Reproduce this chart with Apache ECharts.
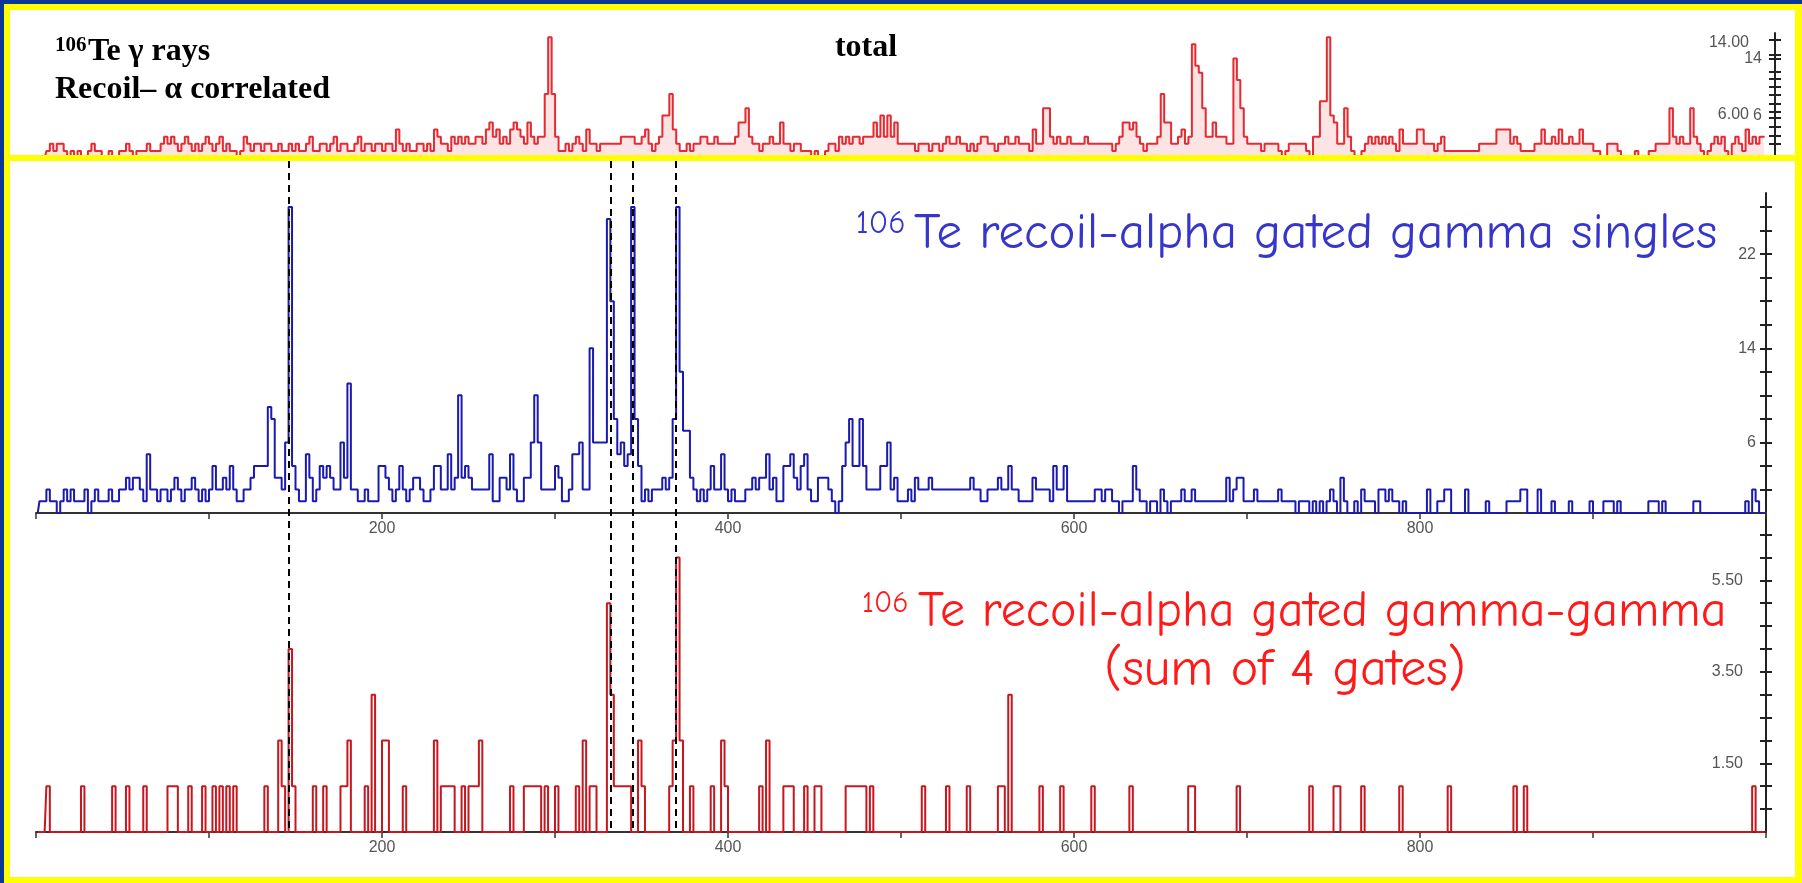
<!DOCTYPE html>
<html>
<head>
<meta charset="utf-8">
<script src="https://cdn.jsdelivr.net/npm/echarts@6.0.0/dist/echarts.min.js"></script>
<style>
html, body { margin: 0; padding: 0; background: #fff; }
#main { width: 1802px; height: 883px; }
</style>
</head>
<body>
<div id="main"></div>
<script>
// counts per 2 keV bin (bin start = 2*i)
// top panel: "total" spectrum
var top000 = [0,0,0,1,2,1,2,2,1,0, 1,0,1,0,0,1,2,1,1,0, 0,1,0,0,1,1,2,1,0,1, 1,1,2,1,1,1,2,3,2,3, 2,1,2,3,2,1,2,1,2,3];
var top100 = [2,1,2,3,1,2,1,1,0,1, 3,2,1,2,2,1,2,2,1,1, 2,1,1,2,1,2,1,1,2,3, 1,1,2,2,1,2,3,1,2,2, 1,1,2,3,1,2,2,1,2,2];
var top200 = [1,2,2,1,4,2,1,2,1,1, 2,2,1,2,1,4,3,2,2,1, 3,2,3,2,3,2,2,3,3,2, 4,5,3,4,2,3,2,4,5,4, 3,2,5,3,2,3,3,9,17,9];
var top300 = [3,1,1,2,1,2,3,2,1,4, 2,2,1,2,2,2,2,2,2,3, 3,3,3,2,2,3,4,2,1,2, 3,6,6,9,4,2,1,1,2,1, 2,2,3,3,2,2,3,2,2,2];
var top400 = [2,2,3,5,5,7,3,2,2,1, 2,2,3,2,2,5,2,2,1,2, 2,1,1,1,0,1,0,0,1,2, 2,1,3,2,3,2,3,3,2,3, 3,3,5,3,6,3,6,3,5,2];
var top500 = [2,2,2,2,1,2,2,2,1,2, 2,1,2,3,2,2,3,2,2,1, 2,1,2,3,3,2,2,1,2,2, 3,2,2,3,2,2,2,1,4,2, 2,7,7,3,2,3,2,2,3,2];
var top600 = [2,2,2,3,2,2,2,2,2,2, 2,1,2,3,5,5,4,5,3,2, 1,2,2,2,3,9,5,5,2,2, 3,4,2,3,16,13,12,7,3,3, 5,3,3,3,2,2,14,11,7,3];
var top700 = [2,2,2,2,1,2,2,2,2,1, 0,1,2,2,2,2,2,1,0,3, 3,8,8,17,6,5,2,2,7,3, 1,0,0,1,2,3,2,3,2,3, 2,3,2,1,4,2,2,2,2,4];
var top800 = [4,2,2,2,1,2,3,1,1,1, 1,1,1,1,1,1,1,2,2,2, 2,2,4,4,4,4,2,3,2,1, 1,1,1,2,2,4,2,2,3,2, 4,2,2,3,2,2,4,2,2,2];
var top900 = [1,1,0,0,2,2,2,1,0,0, 0,0,1,0,0,0,1,1,2,2, 2,2,7,3,2,3,2,2,7,3, 2,1,0,1,2,3,2,3,1,0, 2,3,2,1,4,2,3,2,3,3];

// middle panel: recoil-alpha gated gamma singles
var blue000 = [0,1,1,2,1,1,0,1,2,1, 2,1,1,1,2,0,1,2,1,1, 1,2,1,1,2,2,3,2,3,3, 2,1,5,2,2,1,2,2,1,2, 3,2,1,2,2,3,2,1,2,1];
var blue100 = [2,4,2,2,3,2,4,2,1,1, 2,2,3,4,4,4,4,9,8,3, 3,2,6,26,4,2,1,1,5,3, 1,2,4,3,4,3,2,2,6,3, 11,2,2,1,1,2,1,1,1,4];
var blue200 = [4,3,2,1,2,4,2,1,2,3, 3,2,1,1,2,4,4,2,2,5, 2,3,10,3,4,3,2,2,2,2, 2,5,1,1,3,3,2,5,2,1, 1,3,3,6,10,6,2,2,2,2];
var blue300 = [4,3,1,1,2,5,5,6,2,2, 14,6,6,6,6,25,18,8,5,6, 4,5,26,8,4,1,2,1,2,2, 2,3,2,3,8,26,12,7,7,3, 2,1,2,1,2,4,2,2,5,2];
var blue400 = [1,2,1,1,1,2,2,3,2,3, 3,5,2,3,1,1,4,4,5,3, 2,4,5,2,1,1,3,3,3,2, 1,0,1,4,6,8,4,4,8,4, 2,2,2,2,4,4,6,2,3,1];
var blue500 = [1,1,2,1,3,2,2,2,3,2, 2,2,2,2,2,2,2,2,2,2, 3,2,2,1,1,2,2,2,3,2, 2,4,2,2,1,1,1,1,3,2, 2,2,2,1,4,2,2,4,1,1];
var blue600 = [1,1,1,1,1,1,2,2,1,2, 2,1,1,0,1,1,1,4,2,1, 1,0,1,1,0,2,1,0,1,1, 1,2,1,1,2,1,1,1,1,1, 1,1,1,1,3,1,2,3,3,1];
var blue700 = [1,1,2,1,1,1,1,1,1,2, 1,1,1,1,0,1,1,1,0,1, 0,1,0,1,2,1,0,3,1,0, 0,1,0,2,1,1,1,0,2,2, 1,2,1,1,0,1,0,0,0,0];
var blue800 = [0,0,2,0,0,1,1,2,2,0, 0,0,0,2,0,0,0,0,0,1, 0,0,0,0,0,1,1,1,1,2, 2,0,0,0,2,0,0,0,1,0, 0,0,0,1,0,0,0,0,0,1];
var blue900 = [0,0,0,1,1,1,0,1,0,0, 0,0,0,0,0,0,1,1,1,0, 1,0,0,0,0,0,0,0,0,1, 1,0,0,0,0,0,0,0,0,0, 0,0,0,0,1,0,2,1,0,0];

// bottom panel: gamma-gamma, sum of 4 gates (bin start energy, counts)
var ggBins = [6,26,44,52,62,76,78,80,88,96, 102,106,110,114,132,140,142,146,148,160,
  166,176,178,180,190,194,200,202,212,230, 234,236,238,240,246,250,252,254,256,274,
  282,284,286,288,290,294,300,312,316,320, 322,330,332,334,336,338,340,342,348,350,
  366,368,370,372,378,390,396,398,418,422, 432,434,436,444,450,452,468,470,472,474,
  476,478,482,512,526,538,556,558,562,580, 592,610,632,666,668,694,736,750,752,766,
  788,816,854,860,992];
var ggHeights = [1,1,1,1,1,1,1,1,1,1, 1,1,1,1,1,2,1,4,1,1,
  1,1,1,2,1,3,2,2,1,2, 1,1,1,1,1,1,1,1,2,1,
  1,1,1,1,1,1,1,1,2,1, 1,5,3,1,1,1,1,1,2,1,
  1,2,6,2,1,1,2,1,1,2, 1,1,1,1,1,1,1,1,1,1,
  1,1,1,1,1,1,1,1,3,1, 1,1,1,1,1,1,1,1,1,1,
  1,1,1,1,1];

// gate energies marked by the dashed lines
var gateEnergies = [146, 332, 345, 370];

// axis label / tick positions
var topTicks = [2.0, 3.2, 4.4, 5.6, 6.5, 7.7, 8.9, 10.0, 11.1, 12.2, 14.0, 14.5, 16.7];
var topLabels = [6, 14];
var singlesTicks = [2,4,6,8,10,12,14,16,18,20,22,24,26];
var singlesLabels = [6, 14, 22];
var ggTicks = [0.5,1,1.5,2,2.5,3,3.5,4,4.5,5,5.5,6,6.5];
var ggLabels = [1.5, 3.5, 5.5];

var totalCounts = [].concat(top000, top100, top200, top300, top400, top500, top600, top700, top800, top900);
var singlesCounts = [].concat(blue000, blue100, blue200, blue300, blue400, blue500, blue600, blue700, blue800, blue900);
var ggCounts = [];
for (var i = 0; i < 500; i++) ggCounts.push(0);
ggBins.forEach(function (e, k) { ggCounts[e / 2] = ggHeights[k]; });

function binPoints(counts) {
    return counts.map(function (c, i) { return [2 * i + 1, c]; });
}

var axisFont = 'Liberation Sans, Arial, sans-serif';
var noteFont = '"Comic Sans MS", "Comic Neue", "Noto Sans", sans-serif';

function energyAxis(g) {
    return {
        gridIndex: g, type: 'value', min: 0, max: 1000, interval: 100,
        axisLine: { onZero: false, lineStyle: { color: '#333', width: 2 } },
        axisTick: { length: 6, lineStyle: { color: '#333', width: 1.5 } },
        axisLabel: {
            color: '#555', fontSize: 16, fontFamily: axisFont, margin: 8,
            formatter: function (v) { return (v > 0 && v < 1000 && v % 200 === 0) ? String(v) : ''; }
        },
        splitLine: { show: false }
    };
}

function countAxis(g, min, max, ticks, labels, fmt, margin, inside, showLabels) {
    return {
        gridIndex: g, type: 'value', position: 'right', min: min, max: max,
        axisLine: { show: !inside, onZero: false, lineStyle: { color: '#222', width: 2 } },
        axisTick: { show: true, inside: inside, length: 6, customValues: ticks, lineStyle: { color: '#222', width: 2 } },
        axisLabel: {
            show: showLabels, inside: true, margin: margin, customValues: labels,
            color: '#555', fontSize: 16, fontFamily: axisFont, formatter: fmt
        },
        splitLine: { show: false }
    };
}

var plain = function (v) { return String(Math.round(v)); };
var twoDec = function (v) { return v.toFixed(2); };

var chart = echarts.init(document.getElementById('main'));

var option = {
    animation: false,
    backgroundColor: '#ffffff',
    grid: [
        { left: 36, right: 27, top: 33, bottom: 725 },
        { left: 36, right: 36, top: 193, bottom: 370 },
        { left: 36, right: 36, top: 513, bottom: 51 },
        { left: 36, right: 36, top: 161, bottom: 55 }
    ],
    xAxis: [
        { gridIndex: 0, type: 'value', min: 0, max: 1005, show: false },
        energyAxis(1),
        energyAxis(2),
        { gridIndex: 3, type: 'value', min: 0, max: 1000, show: false }
    ],
    yAxis: [
        countAxis(0, 0, 17.6, topTicks, topLabels, plain, 13, false, true),
        countAxis(0, 0, 17.6, topTicks, [], plain, 13, true, false),
        {
            gridIndex: 0, type: 'value', position: 'right', min: 1.22, max: 15.11,
            axisLine: { show: false }, axisTick: { show: false }, splitLine: { show: false },
            axisLabel: { inside: true, margin: 26, customValues: [6, 14], color: '#555', fontSize: 16, fontFamily: axisFont, formatter: twoDec }
        },
        countAxis(1, 0, 27.2, singlesTicks, singlesLabels, plain, 10, false, true),
        countAxis(1, 0, 27.2, singlesTicks, [], plain, 10, true, false),
        countAxis(2, 0, 6.97, ggTicks, ggLabels, twoDec, 23, false, true),
        countAxis(2, 0, 6.97, ggTicks, [], twoDec, 23, true, false),
        { gridIndex: 3, type: 'value', min: 0, max: 1, show: false }
    ],
    series: [
        {
            name: 'total', type: 'line', xAxisIndex: 0, yAxisIndex: 0, step: 'middle',
            symbol: 'none', data: binPoints(totalCounts),
            lineStyle: { color: '#e62a32', width: 2 },
            areaStyle: { color: 'rgba(230,42,50,0.18)' }
        },
        {
            name: 'singles', type: 'line', xAxisIndex: 1, yAxisIndex: 3, step: 'middle',
            symbol: 'none', data: binPoints(singlesCounts),
            lineStyle: { color: '#1a1ab0', width: 2 }
        },
        {
            name: 'gamma-gamma', type: 'line', xAxisIndex: 2, yAxisIndex: 5, step: 'middle',
            symbol: 'none', data: binPoints(ggCounts),
            lineStyle: { color: '#c8161e', width: 2 }
        },
        {
            name: 'gates', type: 'line', xAxisIndex: 3, yAxisIndex: 7, data: [], z: 10,
            markLine: {
                symbol: 'none', silent: true, animation: false,
                label: { show: false },
                lineStyle: { type: [7, 5], color: '#000', width: 2 },
                data: gateEnergies.map(function (e) { return { xAxis: e }; })
            }
        }
    ],
    graphic: [
        { type: 'rect', z: 100, shape: { x: 0, y: 0, width: 1802, height: 4 }, style: { fill: '#0b3799' } },
        { type: 'rect', z: 100, shape: { x: 0, y: 0, width: 4, height: 883 }, style: { fill: '#0b3799' } },
        { type: 'rect', z: 100, shape: { x: 4, y: 4, width: 1798, height: 6 }, style: { fill: '#ffff00' } },
        { type: 'rect', z: 100, shape: { x: 4, y: 4, width: 6, height: 879 }, style: { fill: '#ffff00' } },
        { type: 'rect', z: 100, shape: { x: 1795, y: 4, width: 7, height: 879 }, style: { fill: '#ffff00' } },
        { type: 'rect', z: 100, shape: { x: 4, y: 877, width: 1798, height: 6 }, style: { fill: '#ffff00' } },
        { type: 'rect', z: 100, shape: { x: 4, y: 155, width: 1798, height: 6 }, style: { fill: '#ffff00' } },

        { type: 'text', z: 101, x: 55, y: 46, style: { text: '106', fill: '#000', font: 'bold 21px "Liberation Serif", serif', verticalAlign: 'middle' } },
        { type: 'text', z: 101, x: 88, y: 52, style: { text: 'Te \u03b3 rays', fill: '#000', font: 'bold 32px "Liberation Serif", serif', verticalAlign: 'middle' } },
        { type: 'text', z: 101, x: 55, y: 90, style: { text: 'Recoil\u2013 \u03b1 correlated', fill: '#000', font: 'bold 32px "Liberation Serif", serif', verticalAlign: 'middle' } },
        { type: 'text', z: 101, x: 866, y: 48, style: { text: 'total', fill: '#000', font: 'bold 32px "Liberation Serif", serif', align: 'center', verticalAlign: 'middle' } },

        { type: 'text', z: 101, x: 856, y: 224, style: { text: '106', fill: '#3636cc', font: '32px ' + noteFont, verticalAlign: 'middle' } },
        { type: 'text', z: 101, x: 914, y: 234, style: { text: 'Te recoil-alpha gated gamma singles', fill: '#3636cc', font: '51px ' + noteFont, verticalAlign: 'middle' } },

        { type: 'text', z: 101, x: 862, y: 604, style: { text: '106', fill: '#ff1a1a', font: '30px ' + noteFont, verticalAlign: 'middle' } },
        { type: 'text', z: 101, x: 918, y: 612, style: { text: 'Te recoil-alpha gated gamma-gamma', fill: '#ff1a1a', font: '50px ' + noteFont, verticalAlign: 'middle' } },
        { type: 'text', z: 101, x: 1285, y: 670, style: { text: '(sum of 4 gates)', fill: '#ff1a1a', font: '52px ' + noteFont, align: 'center', verticalAlign: 'middle' } }
    ]
};

chart.setOption(option);
window.addEventListener('resize', function () { chart.resize(); });
</script>
</body>
</html>
